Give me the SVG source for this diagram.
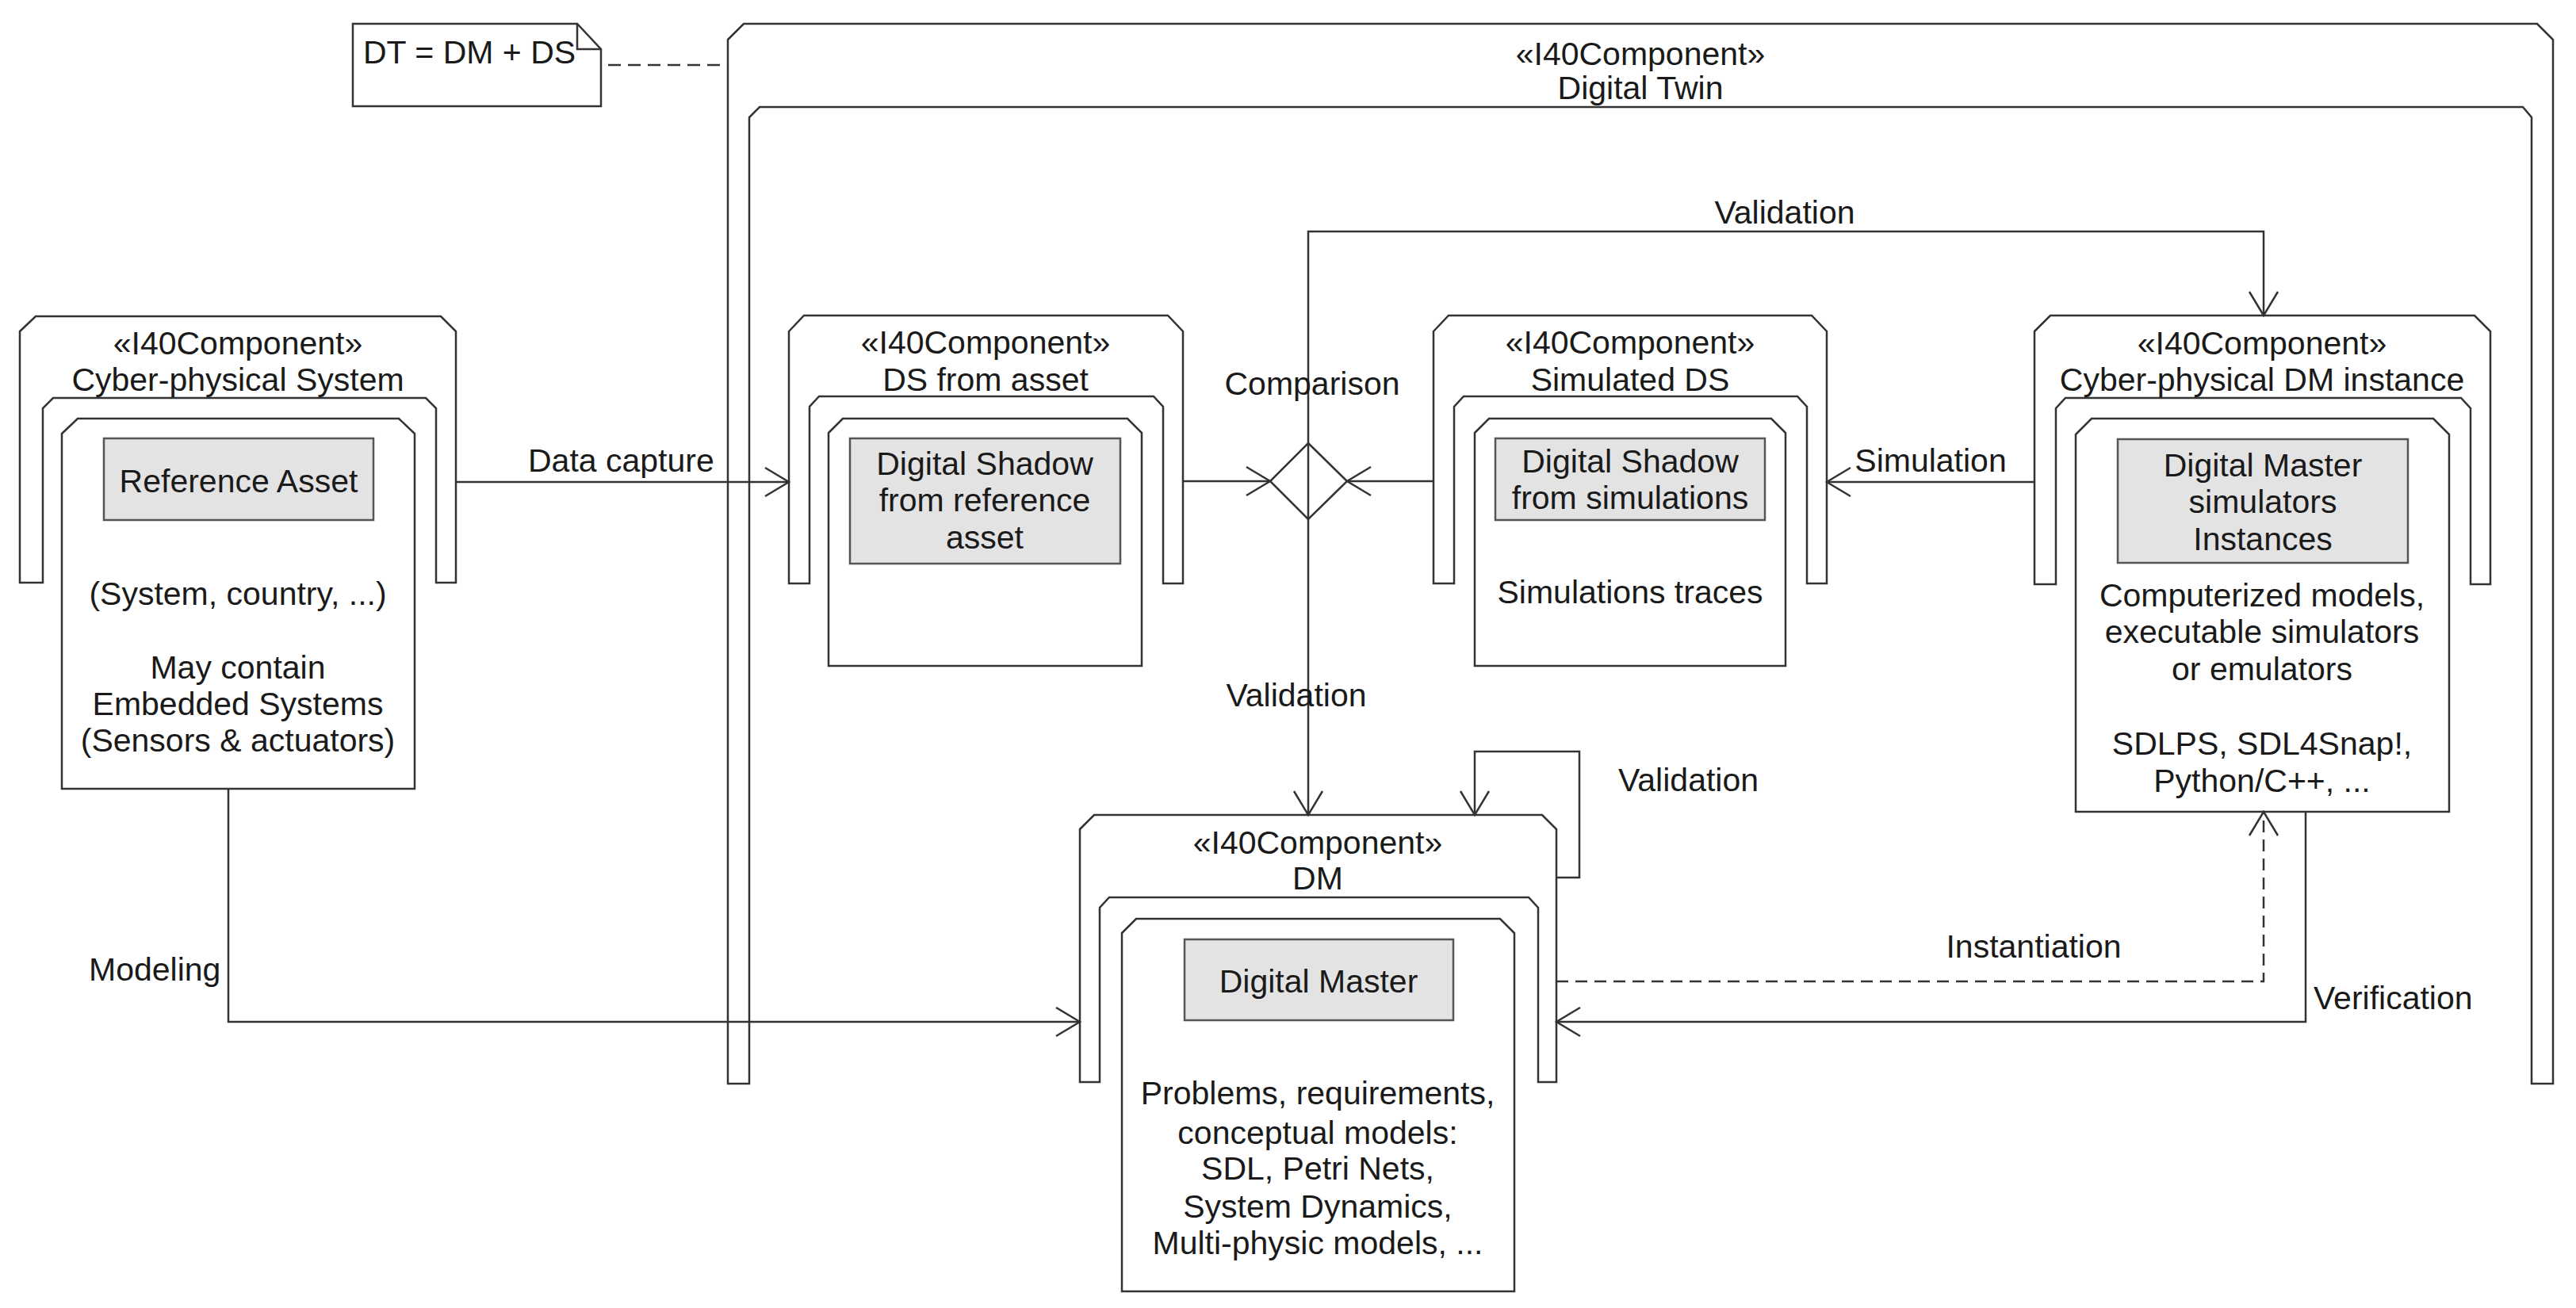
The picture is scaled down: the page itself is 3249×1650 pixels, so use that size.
<svg xmlns="http://www.w3.org/2000/svg" width="3249" height="1650" viewBox="0 0 3249 1650">
<style>
.frame{fill:#fff;stroke:#333;stroke-width:2.5;stroke-linejoin:miter}
.box{fill:#fff;stroke:#333;stroke-width:2.5}
.gray{fill:#e3e3e3;stroke:#555;stroke-width:2.5}
.t{font-family:"Liberation Sans",Arial,sans-serif;font-size:41px;fill:#1a1a1a;text-anchor:middle}
.ts{text-anchor:start}
.c{fill:none;stroke:#333;stroke-width:2.5}
.dash{stroke-dasharray:15 9}
.ndash{stroke-dasharray:16 9}
</style>
<defs>
<marker id="arr" viewBox="0 0 34 40" refX="32" refY="20" markerWidth="34" markerHeight="40" markerUnits="userSpaceOnUse" orient="auto">
<path d="M2,2 L32,20 L2,38" fill="none" stroke="#333" stroke-width="2.5"/>
</marker>
</defs>
<rect width="3249" height="1650" fill="#fff"/>

<g id="digital-twin">
<path class="frame" d="M918,50 L938,30 L3200,30 L3220,50 L3220,1367 L3193,1367 L3193,148 L3182,135 L958,135 L945,148 L945,1367 L918,1367 Z"/>
<text class="t" x="2069" y="82">«I40Component»</text>
<text class="t" x="2069" y="125">Digital Twin</text>
</g>

<g id="note">
<path class="box" d="M445,30 L728,30 L758,62 L758,134 L445,134 Z"/>
<path class="c" d="M728,30 L728,62 L758,62"/>
<text class="t ts" x="458" y="80">DT = DM + DS</text>
</g>

<g id="cps">
<path class="frame" d="M25,418 L45,399 L556,399 L575,418 L575,735 L550,735 L550,515 L537,502 L67,502 L54,515 L54,735 L25,735 Z"/>
<text class="t" x="300" y="447">«I40Component»</text>
<text class="t" x="300" y="493">Cyber-physical System</text>
<path class="box" d="M78,547 L98,528 L503,528 L523,547 L523,995 L78,995 Z"/>
<rect class="gray" x="131" y="553" width="340" height="103"/>
<text class="t" x="301" y="621">Reference Asset</text>
<text class="t" x="300" y="763">(System, country, ...)</text>
<text class="t" x="300" y="856">May contain</text>
<text class="t" x="300" y="902">Embedded Systems</text>
<text class="t" x="300" y="948">(Sensors &amp; actuators)</text>
</g>

<g id="ds-asset">
<path class="frame" d="M995,418 L1014,398 L1473,398 L1492,418 L1492,736 L1467,736 L1467,513 L1455,500 L1033,500 L1021,513 L1021,736 L995,736 Z"/>
<text class="t" x="1243" y="446">«I40Component»</text>
<text class="t" x="1243" y="493">DS from asset</text>
<path class="box" d="M1045,546 L1063,528 L1422,528 L1440,546 L1440,840 L1045,840 Z"/>
<rect class="gray" x="1072" y="553" width="341" height="158"/>
<text class="t" x="1242" y="599">Digital Shadow</text>
<text class="t" x="1242" y="645">from reference</text>
<text class="t" x="1242" y="692">asset</text>
</g>

<g id="sim-ds">
<path class="frame" d="M1808,418 L1827,398 L2285,398 L2304,418 L2304,736 L2279,736 L2279,513 L2267,500 L1846,500 L1834,513 L1834,736 L1808,736 Z"/>
<text class="t" x="2056" y="446">«I40Component»</text>
<text class="t" x="2056" y="493">Simulated DS</text>
<path class="box" d="M1860,546 L1878,528 L2234,528 L2252,546 L2252,840 L1860,840 Z"/>
<rect class="gray" x="1886" y="553" width="340" height="103"/>
<text class="t" x="2056" y="596">Digital Shadow</text>
<text class="t" x="2056" y="642">from simulations</text>
<text class="t" x="2056" y="761">Simulations traces</text>
</g>

<g id="dm-instance">
<path class="frame" d="M2566,418 L2586,398 L3121,398 L3141,418 L3141,737 L3116,737 L3116,515 L3104,502 L2605,502 L2593,515 L2593,737 L2566,737 Z"/>
<text class="t" x="2853" y="447">«I40Component»</text>
<text class="t" x="2853" y="493">Cyber-physical DM instance</text>
<path class="box" d="M2618,548 L2638,528 L3069,528 L3089,548 L3089,1024 L2618,1024 Z"/>
<rect class="gray" x="2671" y="554" width="366" height="156"/>
<text class="t" x="2854" y="601">Digital Master</text>
<text class="t" x="2854" y="647">simulators</text>
<text class="t" x="2854" y="694">Instances</text>
<text class="t" x="2853" y="765">Computerized models,</text>
<text class="t" x="2853" y="811">executable simulators</text>
<text class="t" x="2853" y="858">or emulators</text>
<text class="t" x="2853" y="952">SDLPS, SDL4Snap!,</text>
<text class="t" x="2853" y="999">Python/C++, ...</text>
</g>

<g id="dm">
<path class="frame" d="M1362,1046 L1380,1028 L1945,1028 L1963,1046 L1963,1365 L1940,1365 L1940,1145 L1928,1132 L1399,1132 L1387,1145 L1387,1365 L1362,1365 Z"/>
<text class="t" x="1662" y="1077">«I40Component»</text>
<text class="t" x="1662" y="1122">DM</text>
<path class="box" d="M1415,1177 L1433,1159 L1892,1159 L1910,1177 L1910,1629 L1415,1629 Z"/>
<rect class="gray" x="1494" y="1185" width="339" height="102"/>
<text class="t" x="1663" y="1252">Digital Master</text>
<text class="t" x="1662" y="1393">Problems, requirements,</text>
<text class="t" x="1662" y="1443">conceptual models:</text>
<text class="t" x="1662" y="1488">SDL, Petri Nets,</text>
<text class="t" x="1662" y="1536">System Dynamics,</text>
<text class="t" x="1662" y="1582">Multi-physic models, ...</text>
</g>

<g id="comparison">
<path class="box" d="M1650,559 L1699,607 L1650,655 L1602,607 Z"/>
</g>

<g id="connectors">
<path class="c ndash" d="M767,82 H918"/>
<path class="c" d="M575,608 H995" marker-end="url(#arr)"/>
<path class="c" d="M1492,607 H1602" marker-end="url(#arr)"/>
<path class="c" d="M1808,607 H1699" marker-end="url(#arr)"/>
<path class="c" d="M2566,608 H2304" marker-end="url(#arr)"/>
<path class="c" d="M1650,559 V292 H2855 V398" marker-end="url(#arr)"/>
<path class="c" d="M1650,559 V655"/>
<path class="c" d="M1650,655 V1028" marker-end="url(#arr)"/>
<path class="c" d="M1963,1107 H1992 V948 H1860 V1028" marker-end="url(#arr)"/>
<path class="c" d="M288,995 V1289 H1362" marker-end="url(#arr)"/>
<path class="c dash" d="M1963,1238 H2855 V1024" marker-end="url(#arr)"/>
<path class="c" d="M2908,1024 V1289 H1963" marker-end="url(#arr)"/>
<text class="t ts" x="666" y="595">Data capture</text>
<text class="t" x="1655" y="498">Comparison</text>
<text class="t" x="2251" y="282">Validation</text>
<text class="t" x="2435" y="595">Simulation</text>
<text class="t" x="1635" y="891">Validation</text>
<text class="t ts" x="2041" y="998">Validation</text>
<text class="t ts" x="112" y="1237">Modeling</text>
<text class="t" x="2565" y="1208">Instantiation</text>
<text class="t ts" x="2918" y="1273">Verification</text>
</g>
</svg>
